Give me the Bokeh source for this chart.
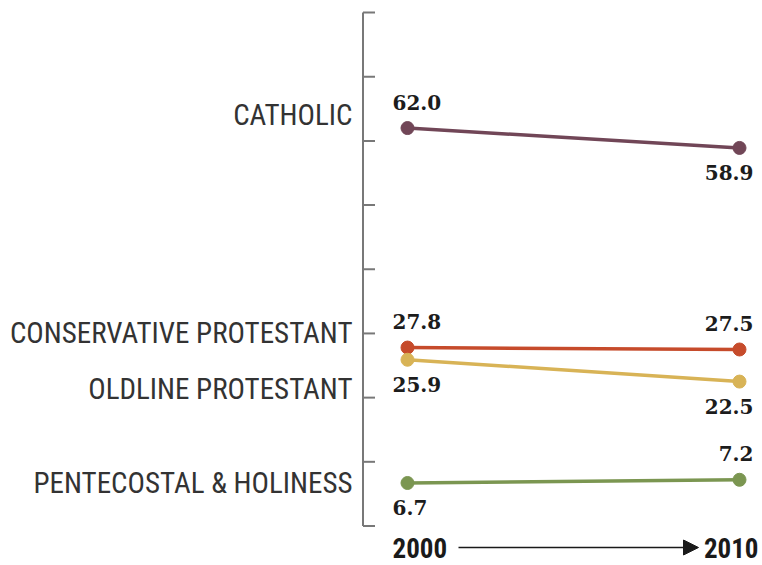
from bokeh.plotting import figure
from bokeh.models import Range1d, Arrow, NormalHead
from bokeh.core.properties import value
from bokeh.embed import file_html
from bokeh.resources import INLINE

# ---- data ----
categories = ["CATHOLIC", "CONSERVATIVE PROTESTANT", "OLDLINE PROTESTANT", "PENTECOSTAL & HOLINESS"]
years = [2000, 2010]
values_2000 = [62.0, 27.8, 25.9, 6.7]
values_2010 = [58.9, 27.5, 22.5, 7.2]
axis_ticks = [0, 10, 20, 30, 40, 50, 60, 70, 80]
year_labels = ["2000", "2010"]

# ---- styles ----
colors = ["#714657", "#c64b2b", "#d8b356", "#7b9651"]
label_pos_2000 = ["above", "above", "below", "below"]
label_pos_2010 = ["below", "above", "below", "above"]
cat_label_dy = [-13, -15, 29, 0]

W, H = 760, 563
PX_YEAR = 33.2          # px per year
PX_UNIT = 513.5 / 80    # px per unit
X0_PX = 407             # px of year 2000 within the frame
Y0_PX = 525.5           # px of value 0 from the top of the frame

x_start = years[0] - X0_PX / PX_YEAR
y_end = axis_ticks[-1] + (Y0_PX - 513.5) / PX_UNIT
y_start = y_end - H / PX_UNIT

p = figure(width=W, height=H, output_backend="svg", toolbar_location=None,
           x_range=Range1d(x_start, x_start + W / PX_YEAR),
           y_range=Range1d(y_start, y_end),
           min_border=0, min_border_left=0, min_border_right=0,
           min_border_top=0, min_border_bottom=0)
p.axis.visible = False
p.grid.visible = False
p.outline_line_color = None
p.background_fill_color = "white"
p.border_fill_color = "white"

# ---- vertical axis with inward ticks ----
axis_x = years[0] - 44.5 / PX_YEAR
tick_len = 12 / PX_YEAR
p.segment(x0=[axis_x], y0=[axis_ticks[0]], x1=[axis_x], y1=[axis_ticks[-1]],
          line_color="#787878", line_width=2)
p.segment(x0=[axis_x] * len(axis_ticks), y0=axis_ticks,
          x1=[axis_x + tick_len] * len(axis_ticks), y1=axis_ticks,
          line_color="#787878", line_width=2)

value_font = value("DejaVu Serif")
cat_font = value("'Roboto Condensed', 'DejaVu Sans Condensed', 'Liberation Sans Narrow', Roboto")

for i, cat in enumerate(categories):
    ys = [values_2000[i], values_2010[i]]
    p.line(years, ys, line_color=colors[i], line_width=3.5)
    p.scatter(years, ys, size=13, fill_color=colors[i], line_color=colors[i], marker="circle")

    dy0 = -26 if label_pos_2000[i] == "above" else 25
    dy1 = -26 if label_pos_2010[i] == "above" else 25
    p.text(x=[years[0]], y=[values_2000[i]], text=["%.1f" % values_2000[i]],
           x_offset=-15, y_offset=dy0, text_align="left", text_baseline="middle",
           text_font=value_font, text_font_style="bold", text_font_size="20px",
           text_color="#1c1c1c")
    p.text(x=[years[1]], y=[values_2010[i]], text=["%.1f" % values_2010[i]],
           x_offset=14, y_offset=dy1, text_align="right", text_baseline="middle",
           text_font=value_font, text_font_style="bold", text_font_size="20px",
           text_color="#1c1c1c")

    p.text(x=[years[0]], y=[values_2000[i]], text=[cat],
           x_offset=-55, y_offset=cat_label_dy[i], text_align="right",
           text_baseline="middle", text_font=cat_font, text_font_size="29px",
           text_color="#333333")

# ---- bottom year labels and arrow ----
bottom_y = -21.5 / PX_UNIT
p.text(x=[years[0]], y=[bottom_y], text=[year_labels[0]], x_offset=-15,
       text_align="left", text_baseline="middle", text_font=cat_font,
       text_font_style="bold", text_font_size="27px", text_color="#1a1a1a")
p.text(x=[years[1]], y=[bottom_y], text=[year_labels[1]], x_offset=19,
       text_align="right", text_baseline="middle", text_font=cat_font,
       text_font_style="bold", text_font_size="27px", text_color="#1a1a1a")
p.add_layout(Arrow(x_start=years[0] + 51 / PX_YEAR, y_start=bottom_y,
                   x_end=years[1] - 41 / PX_YEAR, y_end=bottom_y,
                   line_color="#1a1a1a", line_width=1.5,
                   end=NormalHead(size=15, fill_color="#1a1a1a", line_color="#1a1a1a")))

open("out.html", "w").write(file_html(p, INLINE))
